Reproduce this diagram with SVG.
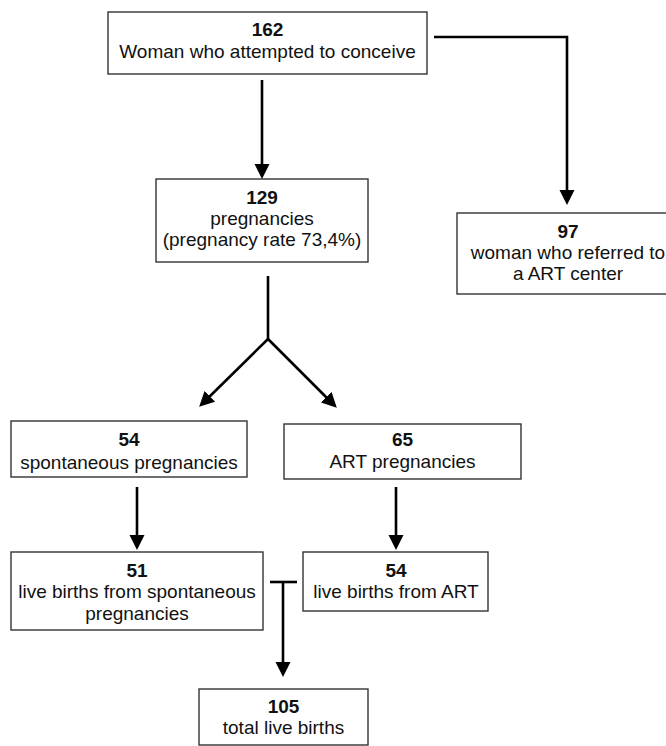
<svg xmlns="http://www.w3.org/2000/svg" width="666" height="746" viewBox="0 0 666 746">
<style>
.box{fill:#fff;stroke:#333;stroke-width:1.4}
text{font-family:"Liberation Sans",Arial,sans-serif;font-size:19px;fill:#111;text-anchor:middle}
.b{font-weight:bold}
.c{fill:none;stroke:#000;stroke-width:2.6}
</style>
<defs>
<marker id="ah" markerUnits="userSpaceOnUse" markerWidth="18" markerHeight="16" refX="11" refY="7.5" orient="auto" viewBox="0 0 18 16">
<path d="M0,0 L15,7.5 L0,15 z" fill="#000"/>
</marker>
</defs>
<g id="connectors">
<path class="c" d="M262,80 V175" marker-end="url(#ah)"/>
<path class="c" d="M434,37 H567 V201" marker-end="url(#ah)"/>
<path class="c" d="M268,276 V339"/>
<path class="c" d="M268,339 L202,404" marker-end="url(#ah)"/>
<path class="c" d="M268,339 L334,405" marker-end="url(#ah)"/>
<path class="c" d="M137,487 V546" marker-end="url(#ah)"/>
<path class="c" d="M396,487 V546" marker-end="url(#ah)"/>
<path class="c" d="M270,582 H297"/>
<path class="c" d="M283,582 V673" marker-end="url(#ah)"/>
</g>
<g id="n162">
<rect class="box" x="108" y="12" width="319" height="62"/>
<text class="b" x="267.5" y="36">162</text>
<text x="267.5" y="58">Woman who attempted to conceive</text>
</g>
<g id="n129">
<rect class="box" x="156" y="179" width="212" height="83"/>
<text class="b" x="262" y="204">129</text>
<text x="262" y="225">pregnancies</text>
<text x="262" y="246">(pregnancy rate 73,4%)</text>
</g>
<g id="n97">
<rect class="box" x="457" y="213" width="222" height="81"/>
<text class="b" x="568" y="238">97</text>
<text x="568" y="259">woman who referred to</text>
<text x="568" y="280">a ART center</text>
</g>
<g id="n54s">
<rect class="box" x="11" y="421" width="236" height="56"/>
<text class="b" x="129" y="446">54</text>
<text x="129" y="469">spontaneous pregnancies</text>
</g>
<g id="n65">
<rect class="box" x="284" y="424" width="237" height="55"/>
<text class="b" x="402.5" y="446">65</text>
<text x="402.5" y="468">ART pregnancies</text>
</g>
<g id="n51">
<rect class="box" x="11" y="552" width="252" height="78"/>
<text class="b" x="137" y="577">51</text>
<text x="137" y="598">live births from spontaneous</text>
<text x="137" y="620">pregnancies</text>
</g>
<g id="n54a">
<rect class="box" x="303" y="552" width="185" height="59"/>
<text class="b" x="396" y="577">54</text>
<text x="396" y="598">live births from ART</text>
</g>
<g id="n105">
<rect class="box" x="199" y="689" width="169" height="56"/>
<text class="b" x="283.5" y="713">105</text>
<text x="283.5" y="734">total live births</text>
</g>
</svg>
